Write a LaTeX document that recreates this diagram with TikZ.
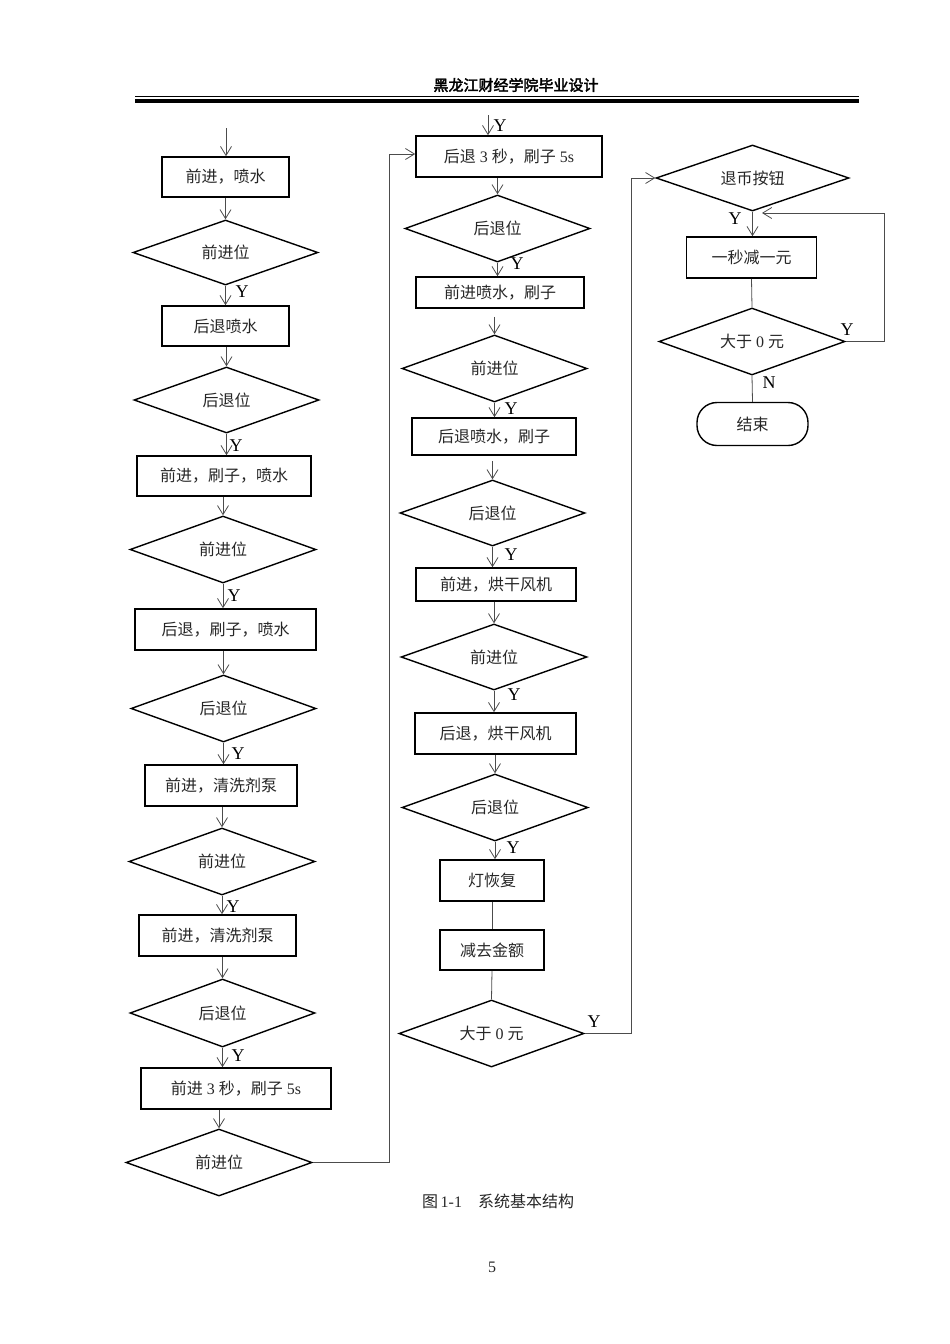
\documentclass[tikz,border=0pt]{standalone}
\usepackage{fontspec}
\setmainfont{Liberation Serif}
\newfontfamily\cjk{Noto Sans CJK SC}
\newfontfamily\cjkb[FakeBold=2.5]{Noto Sans CJK SC}
\usetikzlibrary{shapes.geometric,arrows.meta}
\newcommand\zh[1]{{\cjk #1}}
\begin{document}
\begin{tikzpicture}[x=1pt,y=-1pt,
  every node/.style={font=\fontsize{16}{19}\selectfont, text=black!85},
  box/.style={draw=black, line width=1.6pt, inner sep=0pt, rectangle},
  dia/.style={draw=black, line width=1.4pt, inner sep=0pt, diamond, aspect=3},
  term/.style={draw=black, line width=1.4pt, inner sep=0pt, rounded corners=20pt},
  conn/.style={draw=black!70, line width=0.8pt},
  arr/.style={conn, -{Straight Barb[length=9pt,width=11pt,line width=0.8pt]}},
  lab/.style={font=\fontsize{18}{20}\selectfont, text=black, inner sep=0pt}
]
\useasboundingbox (0,0) rectangle (950,1344);
% header
\node[font=\fontsize{15}{18}\selectfont\cjkb, text=black] (hdr) at (516,85) {黑龙江财经学院毕业设计};
\coordinate (hl1) at (135,96.5); \coordinate (hr1) at (859,96.5);
\coordinate (hl2) at (135,100.8); \coordinate (hr2) at (859,100.8);
\draw[line width=1pt] (hl1) -- (hr1);
\draw[line width=3.6pt] (hl2) -- (hr2);

% ---------- left column ----------
\node[box, minimum width=127pt, minimum height=40pt] (b1) at (225.5,177) {\zh{前进，喷水}};
\node[dia, minimum width=185pt, minimum height=65pt] (d1) at (225.5,252.5) {\zh{前进位}};
\node[box, minimum width=127pt, minimum height=40pt] (b2) at (225.5,326) {\zh{后退喷水}};
\node[dia, minimum width=185pt, minimum height=66pt] (d2) at (226.5,400) {\zh{后退位}};
\node[box, minimum width=174pt, minimum height=40pt] (b3) at (224,476) {\zh{前进，刷子，喷水}};
\node[dia, minimum width=186pt, minimum height=67pt] (d3) at (223,549.5) {\zh{前进位}};
\node[box, minimum width=181pt, minimum height=41pt] (b4) at (225.5,629.5) {\zh{后退，刷子，喷水}};
\node[dia, minimum width=185pt, minimum height=67pt] (d4) at (223.5,708.5) {\zh{后退位}};
\node[box, minimum width=152pt, minimum height=41pt] (b5) at (221,785.5) {\zh{前进，清洗剂泵}};
\node[dia, minimum width=186pt, minimum height=67pt] (d5) at (222,861.5) {\zh{前进位}};
\node[box, minimum width=157pt, minimum height=41pt] (b6) at (217.5,935.5) {\raisebox{2pt}{\zh{前进，清洗剂泵}}};
\node[dia, minimum width=185pt, minimum height=68pt] (d6) at (222.5,1013) {\zh{后退位}};
\node[box, minimum width=190pt, minimum height=41pt] (b7) at (236,1088.5) {\zh{前进} 3 \zh{秒，刷子} 5s};
\node[dia, minimum width=186pt, minimum height=67pt] (d7) at (219,1162.5) {\zh{前进位}};

\coordinate (in1) at (226,128);
\draw[arr] (in1) -- (in1 |- b1.north);
\draw[arr] (d1.north |- b1.south) -- (d1.north);
\draw[arr] (d1.south) -- (d1.south |- b2.north);
\draw[arr] (d2.north |- b2.south) -- (d2.north);
\draw[arr] (d2.south) -- (d2.south |- b3.north);
\draw[arr] (d3.north |- b3.south) -- (d3.north);
\draw[arr] (d3.south) -- (d3.south |- b4.north);
\draw[arr] (d4.north |- b4.south) -- (d4.north);
\draw[arr] (d4.south) -- (d4.south |- b5.north);
\draw[arr] (d5.north |- b5.south) -- (d5.north);
\draw[arr] (d5.south) -- (d5.south |- b6.north);
\draw[arr] (d6.north |- b6.south) -- (d6.north);
\draw[arr] (d6.south) -- (d6.south |- b7.north);
\draw[arr] (d7.north |- b7.south) -- (d7.north);

\node[lab] (y1) at (242,292) {Y};
\node[lab] (y2) at (236,446) {Y};
\node[lab] (y3) at (234,596) {Y};
\node[lab] (y4) at (238,754) {Y};
\node[lab] (y5) at (233,907) {Y};
\node[lab] (y6) at (238,1056) {Y};

% ---------- middle column ----------
\node[box, minimum width=186pt, minimum height=41pt] (m1) at (509,156.5) {\zh{后退} 3 \zh{秒，刷子} 5s};
\node[dia, minimum width=185pt, minimum height=67pt] (md1) at (497.5,228.5) {\zh{后退位}};
\node[box, minimum width=168pt, minimum height=31pt] (m2) at (500,292.5) {\zh{前进喷水，刷子}};
\node[dia, minimum width=185pt, minimum height=67pt] (md2) at (494.5,368.5) {\zh{前进位}};
\node[box, minimum width=164pt, minimum height=37pt] (m3) at (494,436.5) {\zh{后退喷水，刷子}};
\node[dia, minimum width=185pt, minimum height=66pt] (md3) at (492.5,513) {\zh{后退位}};
\node[box, minimum width=160pt, minimum height=33pt] (m4) at (496,584.5) {\zh{前进，烘干风机}};
\node[dia, minimum width=186pt, minimum height=66pt] (md4) at (494,657) {\zh{前进位}};
\node[box, minimum width=161pt, minimum height=41pt] (m5) at (495.5,733.5) {\zh{后退，烘干风机}};
\node[dia, minimum width=186pt, minimum height=67pt] (md5) at (495,807.5) {\zh{后退位}};
\node[box, minimum width=104pt, minimum height=41pt] (m6) at (492,880.5) {\zh{灯恢复}};
\node[box, minimum width=104pt, minimum height=40pt] (m7) at (492,950) {\zh{减去金额}};
\node[dia, minimum width=185pt, minimum height=67pt] (md6) at (491.5,1033.5) {\zh{大于} 0 \zh{元}};

\coordinate (in2) at (488,115);
\draw[arr] (in2) -- (in2 |- m1.north);
\draw[arr] (md1.north |- m1.south) -- (md1.north);
\draw[arr] (md1.south) -- (md1.south |- m2.north);
\draw[arr] ([yshift=-8pt]md2.north |- m2.south) -- (md2.north);
\draw[arr] (md2.south) -- (md2.south |- m3.north);
\draw[arr] ([yshift=-5pt]md3.north |- m3.south) -- (md3.north);
\draw[arr] (md3.south) -- (md3.south |- m4.north);
\draw[arr] (md4.north |- m4.south) -- (md4.north);
\draw[arr] (md4.south) -- (md4.south |- m5.north);
\draw[arr] (md5.north |- m5.south) -- (md5.north);
\draw[arr] (md5.south) -- (md5.south |- m6.north);
\draw[conn] (m6) -- (m7);
\draw[conn] (m7.south) -- (md6.north);

\node[lab] (y7) at (500,126) {Y};
\node[lab] (y8) at (517,264) {Y};
\node[lab] (y9) at (511,409) {Y};
\node[lab] (y10) at (511,555) {Y};
\node[lab] (y11) at (514,695) {Y};
\node[lab] (y12) at (513,848) {Y};
\node[lab] (y13) at (594,1022) {Y};

% loop from left column bottom to middle top
\coordinate (lp1) at (389,1162.5);
\coordinate (lp2) at (389,154);
\draw[arr] (d7.east) -- (lp1) -- (lp2) -- (lp2 -| m1.west);

% ---------- right column ----------
\node[dia, minimum width=193pt, minimum height=66pt] (r1) at (752.5,178) {\zh{退币按钮}};
\node[box, minimum width=130pt, minimum height=41pt] (r2) at (751.5,257.5) {\zh{一秒减一元}};
\node[dia, minimum width=186pt, minimum height=67pt] (rd2) at (752,341.5) {\zh{大于} 0 \zh{元}};
\node[term, minimum width=111pt, minimum height=43pt] (rend) at (752.5,424) {\zh{结束}};

\draw[arr] (r1.south) -- (r1.south |- r2.north);
\draw[conn] (r2.south) -- (rd2.north);
\draw[conn] (rd2.south) -- (rend.north);

\coordinate (rp1) at (631,1033.5);
\coordinate (rp2) at (631,178);
\draw[arr] (md6.east) -- (rp1) -- (rp2) -- (r1.west);

\coordinate (rq1) at (884.5,341.5);
\coordinate (rq2) at (884.5,213);
\coordinate (rq3) at (762,213);
\draw[arr] (rd2.east) -- (rq1) -- (rq2) -- (rq3);

\node[lab] (y14) at (735,219) {Y};
\node[lab] (y15) at (847,330) {Y};
\node[lab] (n1) at (769,383) {N};

% caption and page number
\node[font=\fontsize{16}{19}\selectfont] (cap) at (498,1201) {\zh{图}\,1-1\quad\zh{系统基本结构}};
\node[font=\fontsize{16}{19}\selectfont] (pg) at (492,1267) {5};
\end{tikzpicture}
\end{document}
